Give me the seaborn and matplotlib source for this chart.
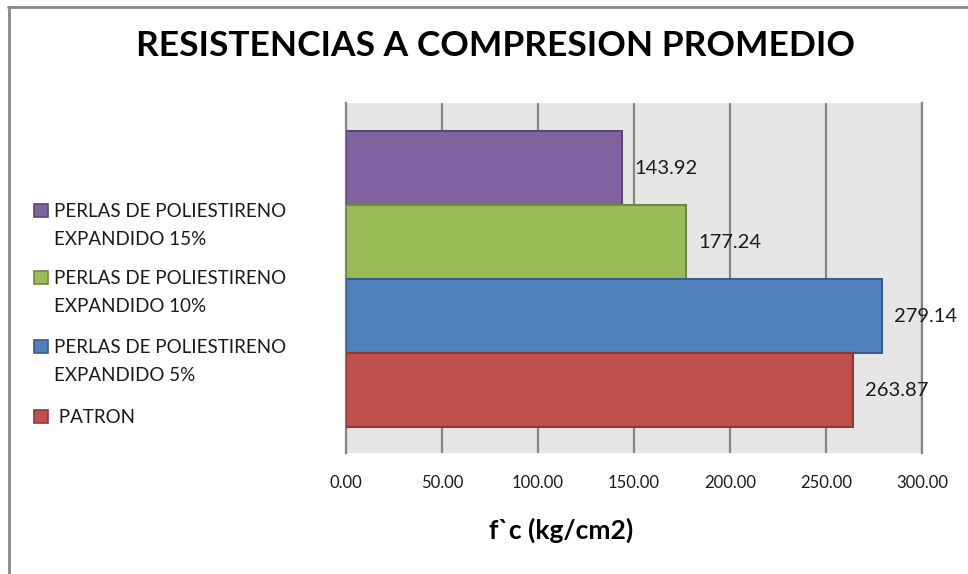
import matplotlib
matplotlib.use("Agg")
import matplotlib.pyplot as plt
import seaborn as sns
import pandas as pd
from matplotlib.patches import Rectangle
from matplotlib.lines import Line2D

# Series (top to bottom) and their values
categories = [
    "PERLAS DE POLIESTIRENO\nEXPANDIDO 15%",
    "PERLAS DE POLIESTIRENO\nEXPANDIDO 10%",
    "PERLAS DE POLIESTIRENO\nEXPANDIDO 5%",
    " PATRON",
]
values = [143.92, 177.24, 279.14, 263.87]
colors = ["#8064A2", "#9BBB59", "#4F81BD", "#C0504D"]
edge_colors = ["#5C4776", "#71893F", "#385D8A", "#8C3836"]
x_ticks = [0, 50, 100, 150, 200, 250, 300]

title = "RESISTENCIAS A COMPRESION PROMEDIO"
x_label = "f`c (kg/cm2)"

sns.set_theme(style="white")
plt.rcParams["font.family"] = ["Lato", "DejaVu Sans"]

W, H = 968, 574
fig = plt.figure(figsize=(W / 100, H / 100), dpi=100)


def fx(px):
    return px / W


def fy(py):
    return 1 - py / H


ax = fig.add_axes([fx(346), fy(453), 576 / W, 350 / H])

df = pd.DataFrame({"serie": categories, "fc": values})
sns.barplot(
    data=df, y="serie", x="fc", hue="serie",
    order=categories, hue_order=categories, palette=colors,
    width=1.0, dodge=False, legend=False, ax=ax, linewidth=1.5,
    saturation=1,
)
for cont, ec in zip(ax.containers, edge_colors):
    for bar in cont:
        bar.set_edgecolor(ec)
        bar.set_zorder(3)
    ax.bar_label(cont, fmt="%.2f", padding=9, fontsize=14.5, color="#1a1a1a")

ax.set_ylim(3.85, -0.88)
ax.set_xlim(0, 300)
ax.set_xticks(x_ticks)
ax.set_xticklabels([f"{t:.2f}" for t in x_ticks], fontsize=12, color="#1a1a1a")
ax.set_yticks([])
ax.set_ylabel("")
ax.tick_params(axis="x", length=0, pad=16)
ax.set_facecolor("#E6E6E6")
ax.grid(axis="x", color="#868686", linewidth=1.6, zorder=0)
ax.set_axisbelow(True)
for side in ["top", "bottom"]:
    ax.spines[side].set_visible(False)
for side in ["left", "right"]:
    ax.spines[side].set_color("#868686")
    ax.spines[side].set_linewidth(1.6)

ax.set_xlabel(x_label, fontsize=19, fontweight="bold", color="black")
ax.xaxis.set_label_coords((561 - 346) / 576, (453 - 530) / 350)
ax.xaxis.label.set_va("center")

fig.text(fx(495), fy(56), title, ha="center", va="baseline",
         fontsize=25.5, fontweight="bold", color="black")

# Legend: square key aligned with the first line of each entry
baselines = [217, 284, 353, 423]
for lab, col, ec, base in zip(categories, colors, edge_colors, baselines):
    fig.add_artist(Rectangle((fx(34), fy(base)), 14 / W, 13 / H,
                             transform=fig.transFigure, facecolor=col,
                             edgecolor=ec, linewidth=1.2))
    for i, line in enumerate(lab.split("\n")):
        fig.text(fx(54), fy(base + 28 * i), line, ha="left", va="baseline",
                 fontsize=13.5, color="#1a1a1a")

# Outer chart frame
fig.add_artist(Line2D([fx(8), 1], [fy(7), fy(7)], color="#888888",
                      linewidth=2, transform=fig.transFigure))
fig.add_artist(Line2D([fx(9), fx(9)], [fy(7), 0], color="#888888",
                      linewidth=2, transform=fig.transFigure))

fig.savefig("out.png", dpi=100)
